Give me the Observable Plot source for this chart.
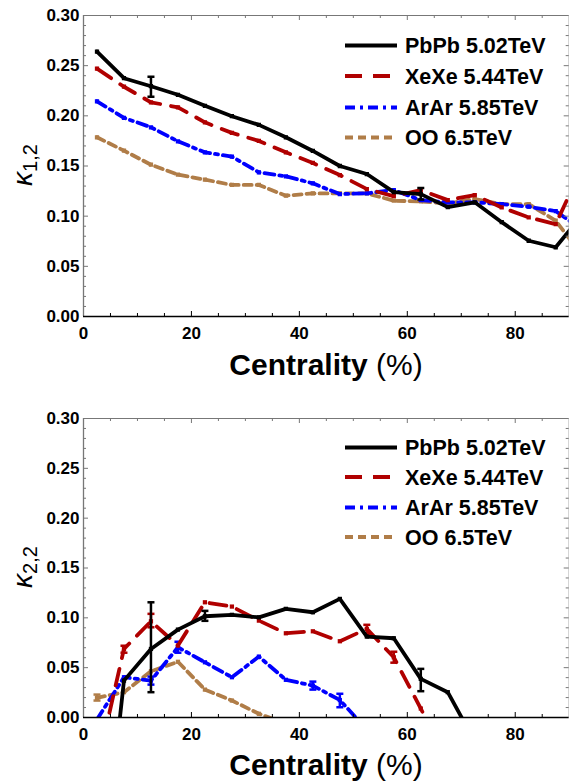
<!DOCTYPE html>
<html><head><meta charset="utf-8">
<script src="https://cdn.jsdelivr.net/npm/d3@7"></script>
<script src="https://cdn.jsdelivr.net/npm/@observablehq/plot@0.6"></script>
<style>
body{margin:0;background:#fff;}
#wrap{position:relative;width:569px;height:781px;overflow:hidden;font-family:"Liberation Sans",Arial,sans-serif;background:#fff;}
.panel{position:absolute;left:0;}
#overlay{position:absolute;left:0;top:0;pointer-events:none;}
</style>
</head><body>
<div id="wrap"><div id="p1" class="panel" style="top:0px"></div><div id="p2" class="panel" style="top:390px"></div></div>
<script>
// ---------- data ----------
const seriesNames = ["PbPb 5.02TeV", "XeXe 5.44TeV", "ArAr 5.85TeV", "OO 6.5TeV"];

// top panel: kappa_{1,2}
const centTop = [2.5, 7.5, 12.5, 17.5, 22.5, 27.5, 32.5, 37.5, 42.5, 47.5, 52.5, 57.5, 62.5, 67.5, 72.5, 77.5, 82.5, 87.5, 92.5];
const pbpbTop = [0.264, 0.2375, 0.2295, 0.221, 0.210, 0.1996, 0.191, 0.1786, 0.165, 0.150, 0.142, 0.124, 0.122, 0.109, 0.1138, 0.094, 0.0755, 0.069, 0.102];
const xexeTop = [0.247, 0.229, 0.2135, 0.2085, 0.1935, 0.183, 0.175, 0.1636, 0.153, 0.141, 0.127, 0.120, 0.126, 0.116, 0.121, 0.1087, 0.0988, 0.092, 0.15];
const ararTop = [0.2145, 0.198, 0.1886, 0.1746, 0.1636, 0.1593, 0.1437, 0.1397, 0.1327, 0.122, 0.1228, 0.126, 0.116, 0.1138, 0.1138, 0.112, 0.1094, 0.105, 0.086];
const ooTop   = [0.1786, 0.1653, 0.1513, 0.1414, 0.1364, 0.1311, 0.1311, 0.1204, 0.1227, 0.1227, 0.1227, 0.1154, 0.1147, 0.1127, 0.1171, 0.112, 0.112, 0.0955, 0.06];
const errTopSeries = [0, 0];
const errTopCent = [12.5, 62.5];
const errTopLow  = [0.219, 0.1165];
const errTopHigh = [0.239, 0.128];

// bottom panel: kappa_{2,2}
const centBot = [2.5, 7.5, 12.5, 17.5, 22.5, 27.5, 32.5, 37.5, 42.5, 47.5, 52.5, 57.5, 62.5, 67.5, 72.5];
const pbpbBot = [-0.21, 0.037, 0.0688, 0.0882, 0.1016, 0.103, 0.1005, 0.109, 0.1056, 0.119, 0.0812, 0.0795, 0.0388, 0.0254, -0.024];
const xexeBot = [-0.05, 0.0688, 0.0965, 0.0722, 0.1156, 0.1113, 0.0972, 0.0845, 0.0865, 0.0765, 0.0889, 0.0604, 0.009, -0.046, null];
const ararBot = [-0.002, 0.0404, 0.037, 0.0705, 0.0554, 0.0404, 0.0611, 0.0378, 0.032, 0.0175, -0.012, null, null, null, null];
const ooBot   = [0.0197, 0.0254, 0.0464, 0.0559, 0.028, 0.017, 0.0037, -0.006, null, null, null, null, null, null, null];
const errBotSeries = [0, 0, 0, 1, 1, 1, 1, 2, 2, 2, 2, 3];
const errBotCent = [12.5, 22.5, 62.5, 7.5, 12.5, 52.5, 57.5, 12.5, 17.5, 42.5, 47.5, 2.5];
const errBotLow  = [0.0254, 0.097, 0.0264, 0.065, 0.0905, 0.084, 0.055, 0.033, 0.065, 0.028, 0.0103, 0.017];
const errBotHigh = [0.1156, 0.107, 0.0488, 0.072, 0.104, 0.093, 0.066, 0.041, 0.076, 0.036, 0.0238, 0.023];

const xMajor = [0, 20, 40, 60, 80];
const xMinor = [5, 10, 15, 25, 30, 35, 45, 50, 55, 65, 70, 75, 85];
const yMajor = [0, 0.05, 0.10, 0.15, 0.20, 0.25, 0.30];
const yMinor = [0.01, 0.02, 0.03, 0.04, 0.06, 0.07, 0.08, 0.09, 0.11, 0.12, 0.13, 0.14, 0.16, 0.17, 0.18, 0.19, 0.21, 0.22, 0.23, 0.24, 0.26, 0.27, 0.28, 0.29];

// ---------- styles ----------
const colors = ["#000000", "#b00000", "#0000ff", "#b07d48"];
const dashes = ["none", "17,11", "10,5,3,5", "8,5"];
const FONT = "'Liberation Sans', Arial, Helvetica, sans-serif";
const W = 569, ML = 83, MR = 0.3;
const capSymbol = {draw(ctx, size) { const r = Math.sqrt(size / Math.PI); ctx.moveTo(-r, 0); ctx.lineTo(r, 0); }};

function panel(cent, series, errS, errC, errL, errH, height, mt, mb) {
  const fh = height - mt - mb, fw = W - ML - MR;
  const marks = [];
  for (let si = series.length - 1; si >= 0; si--) {
    const rows = [];
    series[si].forEach((v, i) => { if (v != null) rows.push({x: cent[i], y: v}); });
    marks.push(Plot.line(rows, {x: "x", y: "y", stroke: colors[si], strokeWidth: 3.8, strokeDasharray: dashes[si], strokeLinejoin: "round", clip: true}));
    marks.push(Plot.dot(rows, {x: "x", y: "y", symbol: "square", r: 2.4, fill: colors[si], stroke: "none", clip: true}));
    const errs = [];
    errS.forEach((s, i) => { if (s === si) errs.push({x: errC[i], lo: errL[i], hi: errH[i]}); });
    marks.push(Plot.ruleX(errs, {x: "x", y1: "lo", y2: "hi", stroke: colors[si], strokeWidth: 2.5, clip: true}));
    marks.push(Plot.dot(errs, {x: "x", y: "lo", symbol: capSymbol, r: 3.5, stroke: colors[si], strokeWidth: 2.5, fill: "none", clip: true}));
    marks.push(Plot.dot(errs, {x: "x", y: "hi", symbol: capSymbol, r: 3.5, stroke: colors[si], strokeWidth: 2.5, fill: "none", clip: true}));
  }
  marks.push(Plot.ruleY([0.3], {stroke: "#777", strokeWidth: 1}));
  marks.push(Plot.ruleX([90], {stroke: "#777", strokeWidth: 1}));
  marks.push(Plot.ruleX([0], {stroke: "#777", strokeWidth: 1.3}));
  marks.push(Plot.ruleY([0], {stroke: "#000", strokeWidth: 1.3}));
  marks.push(Plot.tickX(xMajor.slice(1), {x: d => d, stroke: "#000", insetTop: fh - 5}));
  marks.push(Plot.tickX(xMinor, {x: d => d, stroke: "#000", insetTop: fh - 3}));
  marks.push(Plot.tickX(xMajor.slice(1), {x: d => d, stroke: "#777", insetBottom: fh - 5}));
  marks.push(Plot.tickX(xMinor, {x: d => d, stroke: "#777", insetBottom: fh - 3}));
  marks.push(Plot.tickY(yMajor.slice(1, -1), {y: d => d, stroke: "#777", insetRight: fw - 5}));
  marks.push(Plot.tickY(yMinor, {y: d => d, stroke: "#777", insetRight: fw - 3}));
  marks.push(Plot.tickY(yMajor.slice(1, -1), {y: d => d, stroke: "#777", insetLeft: fw - 5}));
  marks.push(Plot.tickY(yMinor, {y: d => d, stroke: "#777", insetLeft: fw - 3}));
  marks.push(Plot.axisX({ticks: xMajor, tickSize: 0, tickPadding: 10, fontSize: 17, fontWeight: "bold", label: null, tickFormat: d => String(d), fill: "#000"}));
  marks.push(Plot.axisY({ticks: yMajor, tickSize: 0, tickPadding: 4, fontSize: 17, fontWeight: "bold", label: null, tickFormat: d => d.toFixed(2), fill: "#000"}));
  return Plot.plot({
    width: W, height, marginTop: mt, marginBottom: mb, marginLeft: ML, marginRight: MR,
    x: {domain: [0, 90], label: null},
    y: {domain: [0, 0.3], label: null},
    style: {fontFamily: FONT, background: "transparent", overflow: "visible"},
    marks
  });
}

document.getElementById("p1").appendChild(panel(centTop, [pbpbTop, xexeTop, ararTop, ooTop], errTopSeries, errTopCent, errTopLow, errTopHigh, 390, 15, 74));
document.getElementById("p2").appendChild(panel(centBot, [pbpbBot, xexeBot, ararBot, ooBot], errBotSeries, errBotCent, errBotLow, errBotHigh, 391, 28, 64));

// ---------- overlay: axis titles & legends ----------
const ov = d3.select("#wrap").append("svg").attr("id", "overlay").attr("width", W).attr("height", 781)
  .style("font-family", FONT);

function xTitle(y) {
  const t = ov.append("text").attr("x", 326).attr("y", y).attr("text-anchor", "middle").attr("font-size", 30).attr("fill", "#000");
  t.append("tspan").attr("font-weight", "bold").text("Centrality");
  t.append("tspan").text(" (%)");
}
function yTitle(cy, sub) {
  const t = ov.append("text").attr("transform", `translate(32,${cy}) rotate(-90)`).attr("text-anchor", "middle").attr("fill", "#000");
  t.append("tspan").attr("font-style", "italic").attr("font-size", 28).text("κ");
  t.append("tspan").attr("font-size", 20).attr("dy", 5).text(sub);
}
function legend(rowsY) {
  seriesNames.forEach((name, i) => {
    ov.append("line").attr("x1", 345).attr("x2", 397).attr("y1", rowsY[i]).attr("y2", rowsY[i])
      .attr("stroke", colors[i]).attr("stroke-width", 4).attr("stroke-dasharray", dashes[i]);
    ov.append("text").attr("x", 405).attr("y", rowsY[i] + 7.5).attr("font-size", 21.5).attr("font-weight", "bold").attr("fill", "#000").text(name);
  });
}
xTitle(375);
xTitle(775);
yTitle(165, "1,2");
yTitle(567, "2,2");
legend([45.5, 76, 107.5, 137.5]);
legend([447.5, 477, 507.5, 537]);
</script>
</body></html>
